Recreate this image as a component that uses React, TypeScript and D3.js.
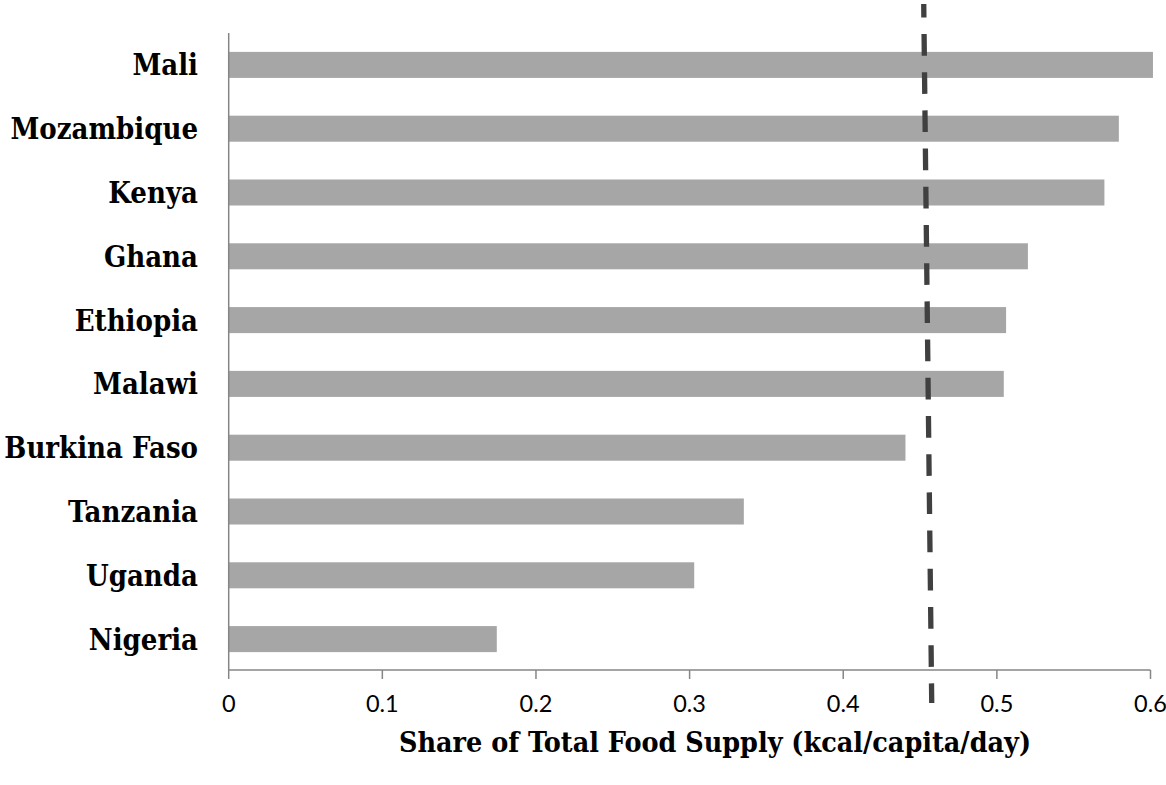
import React from "react";
import * as d3 from "d3";

const countries = [
  "Mali",
  "Mozambique",
  "Kenya",
  "Ghana",
  "Ethiopia",
  "Malawi",
  "Burkina Faso",
  "Tanzania",
  "Uganda",
  "Nigeria",
];
const shares = [0.6016, 0.5794, 0.570, 0.5202, 0.506, 0.5045, 0.4405, 0.3353, 0.303, 0.1745];
const xTicks = [0, 0.1, 0.2, 0.3, 0.4, 0.5, 0.6];
const referenceLine = [0.4524, 0.4576]; // value at top, value at bottom
const xTitle = "Share of Total Food Supply (kcal/capita/day)";

const W = 1166;
const H = 785;
const left = 228.7;
const right = 1150.5;
const top = 33;
const bottom = 670;

const serif = "'DejaVu Serif Condensed', 'DejaVu Serif', serif";

export default function App() {
  const x = d3.scaleLinear().domain([0, 0.6]).range([left, right]);
  const y = d3
    .scaleBand<string>()
    .domain(countries)
    .range([top, bottom + 1])
    .paddingInner(0.592)
    .paddingOuter(0.296);

  const refTopY = 4;
  const refBotY = 703;

  return (
    <svg
      width={W}
      height={H}
      style={{ position: "absolute", left: 0, top: 0, background: "#fff" }}
    >
      {countries.map((c, i) => (
        <rect
          key={c}
          x={x(0)}
          y={y(c)!}
          width={x(shares[i]) - x(0)}
          height={y.bandwidth()}
          fill="#a6a6a6"
        />
      ))}
      <line x1={left} x2={left} y1={top} y2={bottom} stroke="#868686" strokeWidth={1.5} />
      <line x1={left} x2={right} y1={bottom} y2={bottom} stroke="#868686" strokeWidth={1.5} />
      {xTicks.map((t) => (
        <g key={t}>
          <line
            x1={x(t)}
            x2={x(t)}
            y1={bottom}
            y2={bottom + 9}
            stroke="#868686"
            strokeWidth={1.5}
          />
          <text
            x={x(t)}
            y={712}
            textAnchor="middle"
            fontFamily="Lato, 'Open Sans', sans-serif"
            fontSize={23.5}
            fill="#000"
          >
            {String(t)}
          </text>
        </g>
      ))}
      {countries.map((c) => (
        <text
          key={c}
          x={198}
          y={y(c)! + y.bandwidth() / 2 + 10.5}
          textAnchor="end"
          fontFamily={serif}
          fontStretch="condensed"
          fontWeight="bold"
          fontSize={29}
          fill="#000"
        >
          {c}
        </text>
      ))}
      <line
        x1={x(referenceLine[0])}
        x2={x(referenceLine[1])}
        y1={refTopY}
        y2={refBotY}
        stroke="#404040"
        strokeWidth={5.3}
        strokeDasharray="21.7 16.5"
        strokeDashoffset={8.2}
      />
      <text
        x={715}
        y={752}
        textAnchor="middle"
        fontFamily={serif}
        fontStretch="condensed"
        fontWeight="bold"
        fontSize={28.4}
        fill="#000"
      >
        {xTitle}
      </text>
    </svg>
  );
}
